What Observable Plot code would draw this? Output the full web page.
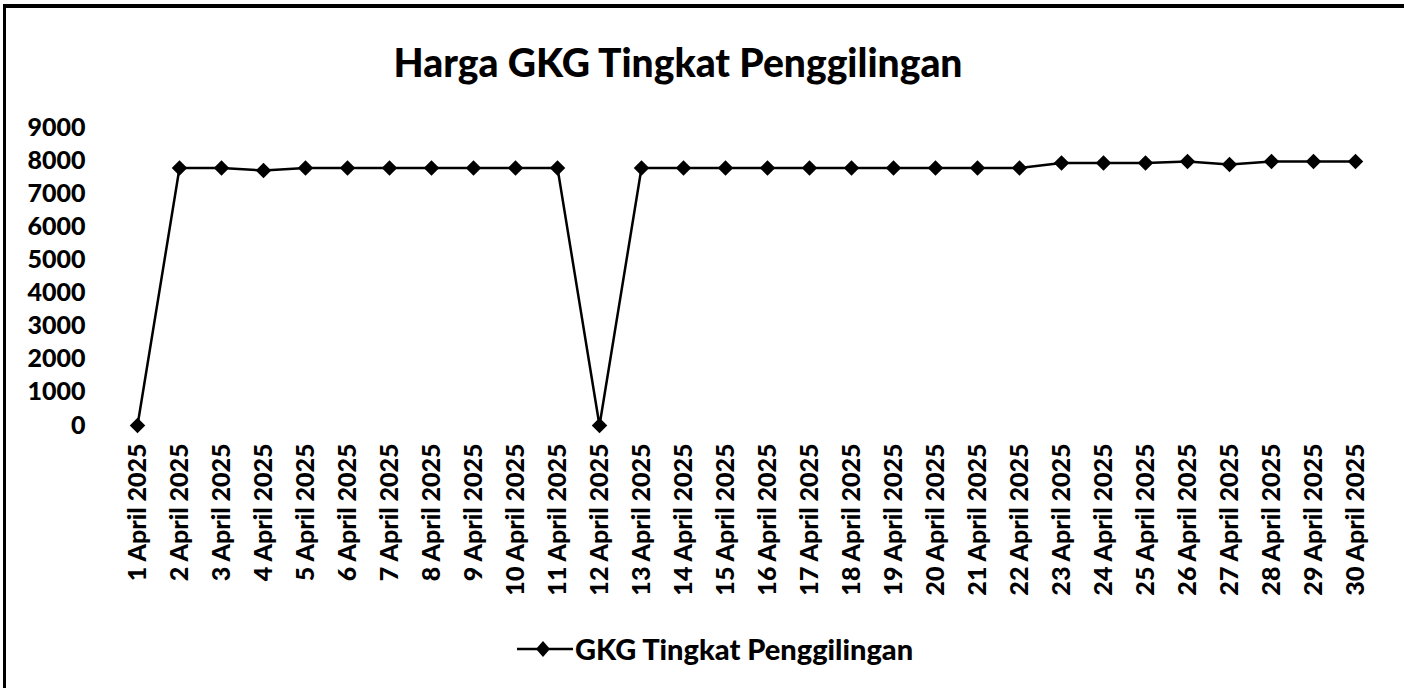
<!DOCTYPE html>
<html>
<head>
<meta charset="utf-8">
<script src="https://cdn.jsdelivr.net/npm/d3@7"></script>
<script src="https://cdn.jsdelivr.net/npm/@observablehq/plot@0.6"></script>
<style>
  html, body { margin: 0; padding: 0; background: #fff; overflow: hidden; }
  #frame { position: relative; width: 1404px; height: 688px; overflow: hidden; font-family: Lato, "Open Sans", sans-serif; }
  #topline { position: absolute; left: 3px; top: 4px; width: 1401px; height: 4px; background: #000; }
  #leftline { position: absolute; left: 3px; top: 4px; width: 3px; height: 684px; background: #000; }
  #title { position: absolute; left: 0; width: 1356px; top: 39px; text-align: center; font-weight: 900; font-size: 39px; color: #000; }
  #chart { position: absolute; left: 0; top: 0; }
  #legend { position: absolute; left: 517px; top: 631px; display: flex; align-items: center; font-weight: 900; font-size: 29px; color: #000; }
</style>
</head>
<body>
<div id="frame">
  <div id="chart"></div>
  <div id="topline"></div>
  <div id="leftline"></div>
  <div id="title">Harga GKG Tingkat Penggilingan</div>
  <div id="legend"></div>
</div>
<script>
const seriesName = "GKG Tingkat Penggilingan";
const days = ["1 April 2025","2 April 2025","3 April 2025","4 April 2025","5 April 2025","6 April 2025","7 April 2025","8 April 2025","9 April 2025","10 April 2025","11 April 2025","12 April 2025","13 April 2025","14 April 2025","15 April 2025","16 April 2025","17 April 2025","18 April 2025","19 April 2025","20 April 2025","21 April 2025","22 April 2025","23 April 2025","24 April 2025","25 April 2025","26 April 2025","27 April 2025","28 April 2025","29 April 2025","30 April 2025"];
const prices = [0,7775,7775,7700,7775,7775,7775,7775,7775,7775,7775,0,7775,7775,7775,7775,7775,7775,7775,7775,7775,7775,7925,7925,7925,7975,7880,7975,7975,7975];
const yTicks = [0,1000,2000,3000,4000,5000,6000,7000,8000,9000];

const data = days.map((d, i) => ({day: d, price: prices[i]}));

const plot = Plot.plot({
  width: 1404,
  height: 688,
  marginLeft: 135,
  marginRight: 47,
  marginTop: 127,
  marginBottom: 263,
  style: {fontFamily: "Lato, 'Open Sans', sans-serif", fontWeight: 900, color: "#000", background: "transparent"},
  x: {type: "point", domain: days, padding: 0, label: null},
  y: {domain: [0, 9000], ticks: yTicks, label: null},
  marks: [
    Plot.axisY({ticks: yTicks, tickFormat: d3.format("d"), tickSize: 0, tickPadding: 50, fontSize: 25, fontWeight: 900, label: null}),
    Plot.axisX({tickSize: 0, tickPadding: 18, tickRotate: -90, fontSize: 25, fontWeight: 900, label: null}),
    Plot.line(data, {x: "day", y: "price", stroke: "#000", strokeWidth: 2.5}),
    Plot.dot(data, {x: "day", y: "price", symbol: "diamond2", r: 7, fill: "#000", stroke: "none"})
  ]
});
document.getElementById("chart").appendChild(plot);

const leg = document.getElementById("legend");
leg.innerHTML = `<svg width="56" height="22" style="margin-right:2px"><line x1="0" y1="11" x2="56" y2="11" stroke="#000" stroke-width="2.5"/><path d="M26,3 L33,11 L26,19 L19,11 Z" fill="#000"/></svg><span>${seriesName}</span>`;
</script>
</body>
</html>
